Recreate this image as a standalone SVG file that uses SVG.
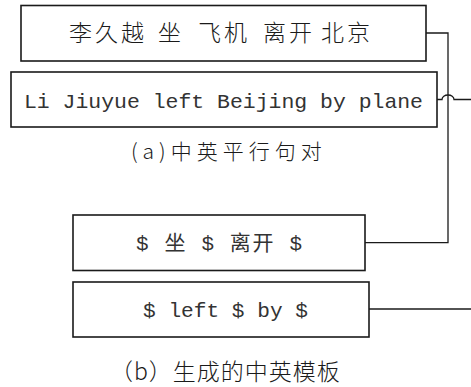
<svg xmlns="http://www.w3.org/2000/svg" width="471" height="387" viewBox="0 0 471 387">
<style>
.box{fill:#fff;stroke:#1a1a1a;stroke-width:1.6}
.con{fill:none;stroke:#1a1a1a;stroke-width:1.3}
.cjk{font-family:"Noto Sans CJK SC","Noto Sans CJK JP",sans-serif;font-weight:300;fill:#1a1a1a}
.mono{font-family:"Liberation Mono","Noto Sans CJK SC",monospace;fill:#333}
</style>
<rect width="471" height="387" fill="#fff"/>
<g id="zh-sentence">
<rect class="box" x="21" y="5.5" width="405" height="55.5"/>
<text class="cjk" font-size="23" y="41" letter-spacing="3"><tspan x="69">李久越</tspan><tspan x="158">坐</tspan><tspan x="198">飞机</tspan><tspan x="263">离开</tspan><tspan x="321">北京</tspan></text>
</g>
<g id="en-sentence">
<rect class="box" x="11" y="72" width="426" height="55"/>
<text class="mono" font-size="21" x="24" y="108" textLength="399" lengthAdjust="spacingAndGlyphs">Li Jiuyue left Beijing by plane</text>
</g>
<g id="caption-a">
<text class="cjk" font-size="21" x="131" y="159" letter-spacing="5">(a)中英平行句对</text>
</g>
<g id="zh-template">
<rect class="box" x="73" y="215" width="292" height="55.5"/>
<text class="mono" font-size="21" x="136" y="250" textLength="166">$ 坐 $ 离开 $</text>
</g>
<g id="en-template">
<rect class="box" x="73" y="282" width="296" height="55"/>
<text class="mono" font-size="21" x="143" y="317" textLength="165" lengthAdjust="spacingAndGlyphs">$ left $ by $</text>
</g>
<g id="caption-b">
<text class="cjk" font-size="23" x="110" y="380" letter-spacing="1">（b）生成的中英模板</text>
</g>
<g id="connectors">
<path class="con" d="M426,33 H448 V242.7 H365"/>
<path class="con" d="M437,99.5 H442 A6,4.5 0 0 1 454,99.5 H471"/>
<path class="con" d="M369,309 H471"/>
</g>
</svg>
